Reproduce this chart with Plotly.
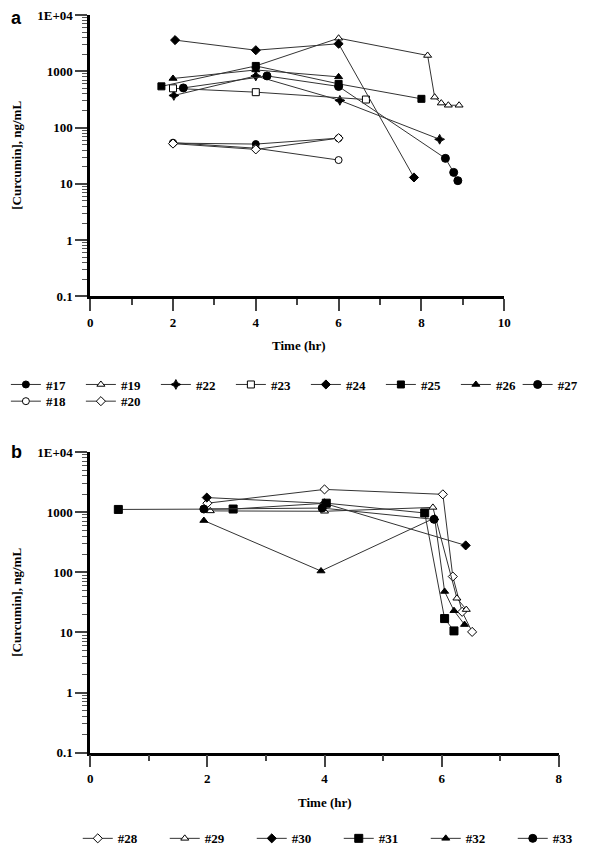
import plotly.graph_objects as go

W, H = 600, 854

# ---------------- Panel a data ----------------
a_names = ["#17", "#19", "#22", "#23", "#24", "#25", "#26", "#27", "#18", "#20"]
t17 = [2.0, 4.0, 6.0]
c17 = [53, 51, 65]
t19 = [4.0, 6.0, 8.15, 8.32, 8.48, 8.65, 8.91]
c19 = [1250, 3890, 1920, 348, 273, 250, 250]
t22 = [2.02, 4.0, 6.03, 8.44]
c22 = [373, 830, 305, 62]
t23 = [2.0, 4.0, 6.66]
c23 = [500, 427, 316]
t24 = [2.05, 4.0, 6.0, 7.82]
c24 = [3600, 2380, 3100, 13]
t25 = [1.72, 4.0, 6.0, 8.0]
c25 = [542, 1250, 600, 325]
t26 = [2.0, 4.0, 6.0]
c26 = [748, 1060, 800]
t27 = [2.25, 4.27, 6.0, 8.58, 8.78, 8.88]
c27 = [508, 830, 540, 28.4, 16, 11.4]
t18 = [2.0, 4.0, 6.0]
c18 = [54, 43, 26.5]
t20 = [2.0, 4.0, 6.0]
c20 = [52, 41, 65]

# ---------------- Panel b data ----------------
b_names = ["#28", "#29", "#30", "#31", "#32", "#33"]
t28 = [2.0, 4.0, 6.02, 6.19, 6.35, 6.52]
c28 = [1410, 2390, 1980, 85, 22, 10.2]
t29 = [2.05, 4.0, 5.85, 6.26, 6.42]
c29 = [1050, 1035, 1200, 37, 24]
t30 = [1.99, 4.0, 6.41]
c30 = [1750, 1400, 280]
t31 = [0.48, 2.44, 4.03, 5.71, 6.05, 6.21]
c31 = [1110, 1128, 1410, 970, 17, 10.6]
t32 = [1.94, 3.94, 5.88, 6.05, 6.21, 6.39]
c32 = [726, 105, 800, 48, 23, 13.5]
t33 = [1.94, 3.96, 5.87]
c33 = [1128, 1170, 760]

y_tickvals = [0.1, 1, 10, 100, 1000, 10000]
y_ticktext = ["0.1", "1", "10", "100", "1000", "1E+04"]

FONT = "Liberation Serif, Times New Roman, Times, serif"

def mk(symbol, filled, size=7):
    return dict(symbol=symbol, size=size, color="black" if filled else "white",
                line=dict(color="black", width=1))

a_series = [
    (t17, c17, mk("circle", True)),
    (t19, c19, mk("triangle-up", False)),
    (t22, c22, mk("star-diamond", True, 7)),
    (t23, c23, mk("square", False)),
    (t24, c24, mk("diamond", True)),
    (t25, c25, mk("square", True)),
    (t26, c26, mk("triangle-up", True)),
    (t27, c27, mk("circle", True, 8)),
    (t18, c18, mk("circle", False)),
    (t20, c20, mk("diamond", False)),
]
# legend block of each panel-a trace: row one (7 + 1) and row two
a_legend = ["legend"] * 7 + ["legend4"] + ["legend3"] * 2

b_series = [
    (t28, c28, mk("diamond", False)),
    (t29, c29, mk("triangle-up", False)),
    (t30, c30, mk("diamond", True)),
    (t31, c31, mk("square", True, 8)),
    (t32, c32, mk("triangle-up", True)),
    (t33, c33, mk("circle", True, 8)),
]

fig = go.Figure()
for name, (t, c, m), lg in zip(a_names, a_series, a_legend):
    fig.add_trace(go.Scatter(x=t, y=c, name=name, mode="lines+markers",
                             line=dict(color="#333333", width=1), marker=m,
                             xaxis="x", yaxis="y", legend=lg))
for name, (t, c, m) in zip(b_names, b_series):
    fig.add_trace(go.Scatter(x=t, y=c, name=name, mode="lines+markers",
                             line=dict(color="#333333", width=1), marker=m,
                             xaxis="x2", yaxis="y2", legend="legend2"))

minor_y = [m * 10 ** k for k in range(-1, 4) for m in range(2, 10)]

def xax(domain, rng, anchor):
    return dict(domain=domain, range=rng, anchor=anchor, showline=True, linewidth=2.5,
                linecolor="black", showgrid=False, zeroline=False, ticks="outside",
                tickcolor="#444", tickwidth=1.5, ticklen=12, tickmode="linear", tick0=0, dtick=2,
                minor=dict(tick0=0, dtick=1, ticks="outside", ticklen=6, tickcolor="#444", tickwidth=1.5),
                tickfont=dict(family=FONT, size=13, color="black", weight="bold"))

def yax(domain, anchor):
    return dict(domain=domain, type="log", range=[-1, 4], anchor=anchor, showline=True,
                linewidth=2.5, linecolor="black", showgrid=False, zeroline=False,
                ticks="outside", tickcolor="#444", tickwidth=1.5, ticklen=12,
                tickmode="array", tickvals=y_tickvals, ticktext=y_ticktext,
                minor=dict(tickmode="array", tickvals=minor_y, ticks="outside", ticklen=5,
                           tickcolor="#555", tickwidth=1),
                tickfont=dict(family=FONT, size=13, color="black", weight="bold"))

def px_x(p):
    return p / W

def px_y(p):
    return 1 - p / H

title_font = dict(family=FONT, size=13, color="black", weight="bold")
lab_font = dict(family="Liberation Sans, Arial, sans-serif", size=18, color="black", weight="bold")
annotations = [
    dict(text="a", x=px_x(6), y=px_y(11), xanchor="left", yanchor="middle", font=lab_font),
    dict(text="b", x=px_x(6), y=px_y(453), xanchor="left", yanchor="middle", font=lab_font),
    dict(text="Time (hr)", x=px_x(309), y=px_y(345), xanchor="center", yanchor="middle", font=title_font),
    dict(text="Time (hr)", x=px_x(336), y=px_y(810), xanchor="center", yanchor="middle", font=title_font),
    dict(text="[Curcumin], ng/mL", x=px_x(14), y=px_y(151), textangle=-90,
         xanchor="center", yanchor="middle", font=title_font),
    dict(text="[Curcumin], ng/mL", x=px_x(14), y=px_y(606), textangle=-90,
         xanchor="center", yanchor="middle", font=title_font),
]
for a in annotations:
    a.update(xref="paper", yref="paper", showarrow=False)

leg_font = dict(family=FONT, size=13, color="black", weight="bold")

def leg(x, y, ew):
    return dict(orientation="h", x=x, y=y, xanchor="left", yanchor="top",
                entrywidth=ew, font=leg_font, bgcolor="rgba(0,0,0,0)")

fig.update_layout(
    width=W, height=H, margin=dict(l=0, r=0, t=0, b=0),
    paper_bgcolor="white", plot_bgcolor="white",
    xaxis=xax([px_x(91), px_x(523)], [0, 10], "y"),
    yaxis=yax([px_y(294.5), px_y(8.3)], "x"),
    xaxis2=xax([px_x(91), px_x(580)], [0, 8], "y2"),
    yaxis2=yax([px_y(759), px_y(453)], "x2"),
    legend=leg(px_x(3), px_y(369), 30),
    legend4=leg(px_x(537), px_y(369), 20),
    legend3=leg(px_x(3), px_y(386), 30),
    legend2=leg(px_x(78), px_y(831), 42),
    annotations=annotations,
    showlegend=True,
)

fig.write_html("out.html", config={"displayModeBar": False},
               post_script="document.body.style.margin='0';document.body.style.overflow='hidden';")
